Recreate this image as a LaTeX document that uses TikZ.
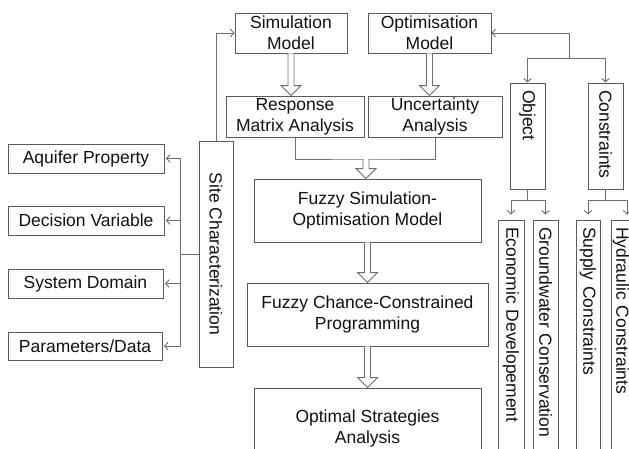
\documentclass[tikz,border=0pt]{standalone}
\usepackage{fontspec}
\setmainfont{Liberation Sans}
\usetikzlibrary{arrows.meta,calc}
\definecolor{boxc}{HTML}{5A5A5A}
\definecolor{linec}{HTML}{6E6E6E}
\definecolor{txtc}{HTML}{111111}
\begin{document}
\begin{tikzpicture}[x=1pt,y=-1pt,
  box/.style={draw=boxc, line width=0.9pt, inner sep=0pt, align=center, text=txtc,
    font=\fontsize{17.5}{21}\selectfont},
  vbox/.style={box, rotate=-90},
  tbox/.style={box, rotate=-90, align=left, inner xsep=7pt},
  conn/.style={draw=linec, line width=0.9pt},
  arr/.style={conn, -{Straight Barb[length=3.5pt,width=7.5pt]}},
  hollow/.style={draw=linec, fill=white, line width=0.9pt, line join=miter,
    to path={let \p1=(\tikztostart), \p2=(\tikztotarget) in
      (\x1-3pt,\y1) -- (\x1-3pt,\y2+10pt) -- (\x1-10pt,\y2+10pt) -- (\x1,\y2)
      -- (\x1+10pt,\y2+10pt) -- (\x1+3pt,\y2+10pt) -- (\x1+3pt,\y1)}}]
\useasboundingbox (0,0) rectangle (629,448);
\fill[white] (0,0) rectangle (629,448);
\clip (0,0) rectangle (629,448);

% top row
\node[box, minimum width=112pt, minimum height=40pt] (sim) at (291,33) {Simulation\\Model};
\node[box, minimum width=123pt, minimum height=40pt] (opt) at (429.5,33) {Optimisation\\Model};
\node[box, minimum width=138pt, minimum height=41pt] (resp) at (295,116.5) {Response\\Matrix Analysis};
\node[box, minimum width=134pt, minimum height=41pt] (unc) at (435,116.5) {Uncertainty\\Analysis};
\node[box, minimum width=227pt, minimum height=63pt] (fso) at (367.5,210.5) {Fuzzy Simulation-\\Optimisation Model};
\node[box, minimum width=241pt, minimum height=63pt] (fcc) at (367.5,314.5) {Fuzzy Chance-Constrained\\Programming};
\node[box, minimum width=227pt, minimum height=80pt] (osa) at (367.5,428) {Optimal Strategies\\Analysis};

% left side
\node[vbox, minimum width=226pt, minimum height=34pt] (site) at (216,254) {Site Characterization};
\node[box, minimum width=156pt, minimum height=29pt] (aq) at (86,158.5) {Aquifer Property};
\node[box, minimum width=156pt, minimum height=29pt] (dv) at (86,220.5) {Decision Variable};
\node[box, minimum width=155pt, minimum height=29pt] (sd) at (85.5,283.5) {System Domain};
\node[box, minimum width=154pt, minimum height=28pt] (pd) at (85,346) {Parameters/Data};

% right side
\node[tbox, minimum height=35pt, text width=92pt] (obj) at (527.5,136) {Object};
\node[tbox, minimum height=35pt, text width=92pt] (con) at (605.5,136) {Constraints};
\node[tbox, minimum height=26pt, text width=236pt] (eco) at (511,345) {Economic Developement};
\node[tbox, minimum height=25pt, text width=236pt] (gw) at (545.5,345) {Groundwater Conservation};
\node[tbox, minimum height=24pt, text width=236pt] (sup) at (588,345) {Supply Constraints};
\node[tbox, minimum height=20pt, text width=236pt] (hyd) at (621,345) {Hydraulic Constraints};

% hollow arrows
\path[hollow] (sim.south) to (sim.south |- resp.north);
\path[hollow] (opt.south) to (opt.south |- unc.north);
\coordinate (jn) at (366,159);
\draw[conn] (resp.south) |- (jn) -| (unc.south);
\path[hollow] (jn) to (jn |- fso.north);
\path[hollow] (fso.south) to (fso.south |- fcc.north);
\path[hollow] (fcc.south) to (fcc.south |- osa.north);

% site characterization connectors
\draw[arr] (site.west) |- (sim.west);
\draw[conn] (site.south) -- ++(-18,0) coordinate (bus);
\draw[conn] (bus |- aq.east) -- (bus |- pd.east);
\foreach \n in {aq,dv,sd,pd} \draw[arr, shorten >=1.5pt] (bus |- \n.east) -- (\n.east);

% optimisation connectors
\coordinate (oc) at (569,58);
\draw[arr] (oc) |- (opt.east);
\draw[arr] (oc) -| (obj.west);
\draw[arr] (oc) -| (con.west);
\draw[conn] (obj.east) -- ++(0,11) coordinate (ob);
\draw[arr, shorten >=5pt] (ob) -| (eco.west);
\draw[arr, shorten >=5pt] (ob) -| (gw.west);
\draw[conn] (con.east) -- ++(0,11) coordinate (cb);
\draw[arr, shorten >=5pt] (cb) -| (sup.west);
\draw[arr, shorten >=5pt] (cb) -| ([xshift=6pt]hyd.west);
\end{tikzpicture}
\end{document}
